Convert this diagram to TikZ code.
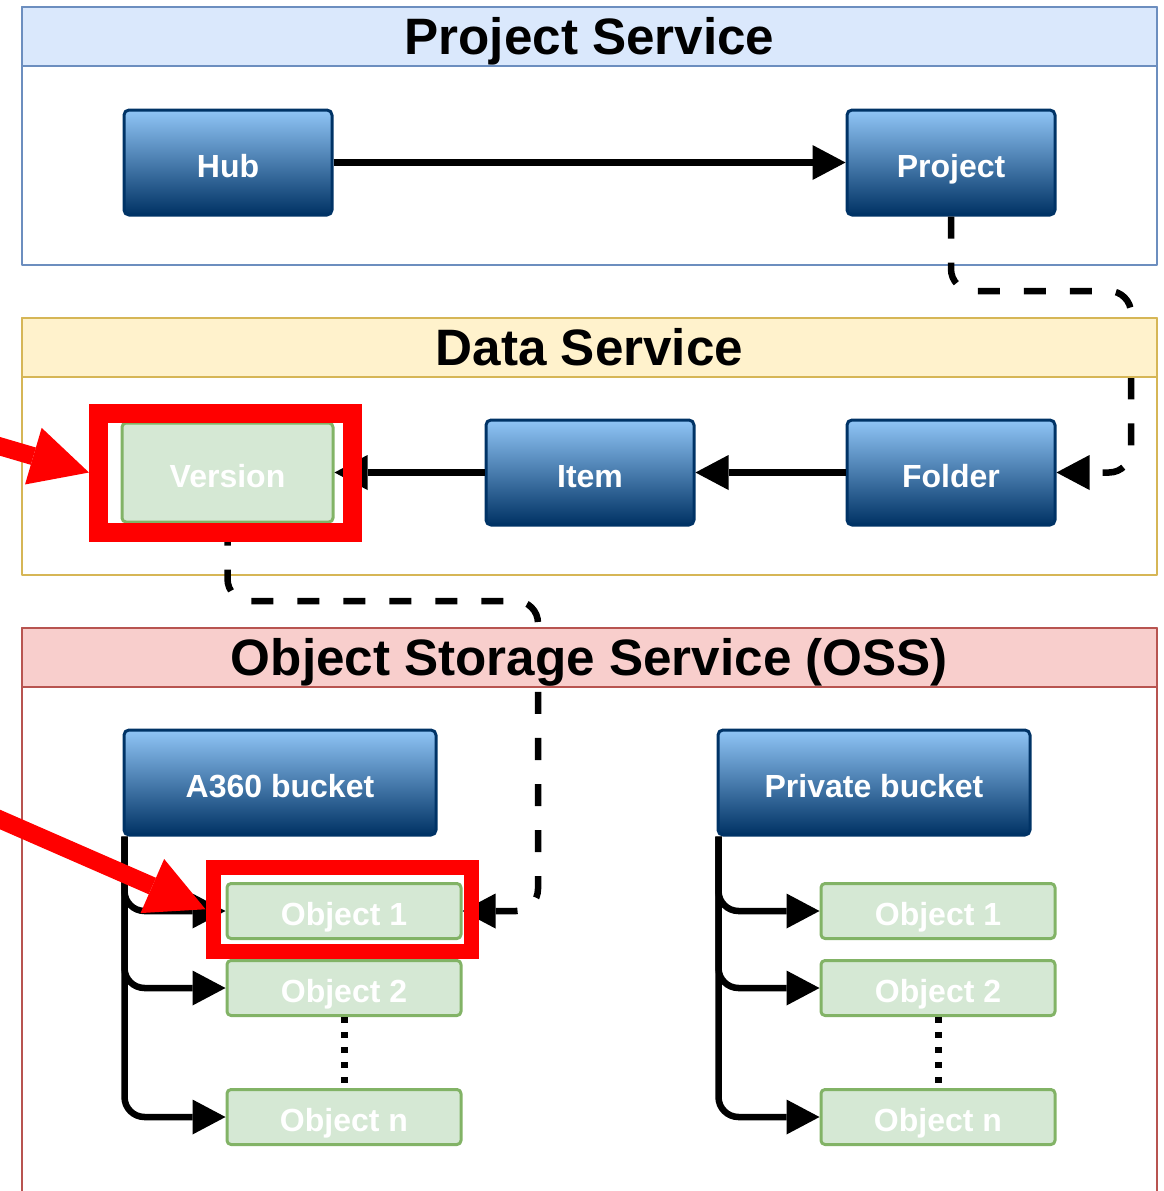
\documentclass[tikz,border=0pt]{standalone}
\usepackage{fontspec}
\setmainfont{Liberation Sans}
\usepackage{xcolor}
\usetikzlibrary{arrows.meta,positioning}

\definecolor{bluetop}{RGB}{144,197,246}
\definecolor{bluebot}{RGB}{0,50,100}
\definecolor{blueline}{RGB}{0,51,102}
\definecolor{greenfill}{RGB}{213,232,212}
\definecolor{greenline}{RGB}{130,179,102}
\definecolor{psfill}{RGB}{218,232,252}
\definecolor{psline}{RGB}{108,142,191}
\definecolor{dsfill}{RGB}{255,242,204}
\definecolor{dsline}{RGB}{214,182,86}
\definecolor{ossfill}{RGB}{248,206,204}
\definecolor{ossline}{RGB}{184,84,80}

\begin{document}
\begin{tikzpicture}[x=0.5pt,y=-0.5pt,>={Triangle[length=16.5pt,width=17.5pt,line width=0pt]},line join=round]
\tikzstyle{entity}=[rectangle, rounded corners=2.5pt, draw=blueline, line width=1.5pt, top color=bluetop, bottom color=bluebot, text=white, font=\fontsize{16}{19}\selectfont\bfseries, minimum width=104pt, minimum height=52.5pt, text height=14.5pt, text depth=0pt]
\tikzstyle{object}=[rectangle, rounded corners=2pt, draw=greenline, fill=greenfill, line width=1.5pt, text=white, font=\fontsize{16}{19}\selectfont\bfseries, minimum width=117pt, minimum height=27.5pt, text height=14.5pt, text depth=0pt]
\tikzstyle{service}=[rectangle, line width=1.25pt, minimum width=567.5pt]
\tikzstyle{header}=[rectangle, line width=1.25pt, font=\fontsize{25.6}{30}\selectfont\bfseries, minimum width=567.5pt, minimum height=29.5pt, text height=18.3pt, text depth=0pt, anchor=north]
\tikzstyle{link}=[->, line width=3.5pt]
\tikzstyle{ref}=[->, line width=3.25pt, dash pattern=on 11pt off 12pt, rounded corners=11pt]
\tikzstyle{branch}=[->, line width=3.25pt, rounded corners=10pt]
\tikzstyle{more}=[line width=3.5pt, dash pattern=on 3pt off 4.5pt]
\tikzstyle{hilite}=[rectangle, draw=red, line width=9.5pt, line join=miter, inner sep=0pt]
\tikzstyle{pointer}=[-{Triangle[length=29pt,width=29.5pt,line width=0pt]}, draw=red, line width=9pt]

\useasboundingbox (0,0) rectangle (1164,1191);

% service frames
\node[service, draw=psline, minimum height=129pt] (psbox) at (589.5,136) {};
\node[service, draw=dsline, minimum height=128.5pt] (dsbox) at (589.5,446.5) {};
\node[service, draw=ossline, minimum height=283.5pt] (ossbox) at (589.5,911.5) {};

% project service
\node[entity] (hub) at (228,162.5) {Hub};
\node[entity, right=256pt of hub] (project) {Project};

% data service
\node[object, minimum width=105.5pt, minimum height=49.5pt] (version) at (227.5,472.5) {Version};
\node[entity, right=75pt of version] (item) {Item};
\node[entity, right=75pt of item] (folder) {Folder};

% oss
\node[entity, minimum width=156pt] (a360) at (280,782.5) {A360 bucket};
\node[entity, minimum width=156pt, right=139.5pt of a360] (private) {Private bucket};

\node[object] (lobj1) at (344,911) {Object 1};
\node[object, below=9.5pt of lobj1] (lobj2) {Object 2};
\node[object, below=35.5pt of lobj2] (lobjn) {Object n};

\node[object] (robj1) at (938,911) {Object 1};
\node[object, below=9.5pt of robj1] (robj2) {Object 2};
\node[object, below=35.5pt of robj2] (robjn) {Object n};

\path[link]
	(hub) edge (project)
	(folder) edge (item)
	(item) edge (version);

\foreach \o in {lobj1,lobj2,lobjn}
	\draw[branch] ([xshift=1pt]a360.south west) |- (\o.west);
\foreach \o in {robj1,robj2,robjn}
	\draw[branch] ([xshift=1pt]private.south west) |- (\o.west);

\draw[more] (lobj2.south) -- (lobjn.north);
\draw[more] (robj2.south) -- (robjn.north);

% dashed references
\coordinate (pfturn) at (1131,291);
\coordinate (voturn) at (538,601);
\draw[ref] (project.south) |- (pfturn) |- (folder.east);
\draw[ref] (version.south) |- (voturn) |- (lobj1.east);

% headers
\node[header, fill=psfill, draw=psline] (pshead) at (psbox.north) {Project Service};
\node[header, fill=dsfill, draw=dsline] (dshead) at (dsbox.north) {Data Service};
\node[header, fill=ossfill, draw=ossline] (osshead) at (ossbox.north) {Object Storage Service (OSS)};

% highlights
\node[hilite, minimum width=126.75pt, minimum height=59.5pt] (vmark) at (225.25,472.5) {};
\node[hilite, line width=7.5pt, minimum width=129.25pt, minimum height=41.75pt] (omark) at (342.25,909.25) {};

\coordinate (vptr) at (-8,444);
\coordinate (optr) at (-8,816);
\draw[pointer] (vptr) -- (vmark.west);
\draw[pointer] (optr) -- (omark.west);
\end{tikzpicture}
\end{document}
